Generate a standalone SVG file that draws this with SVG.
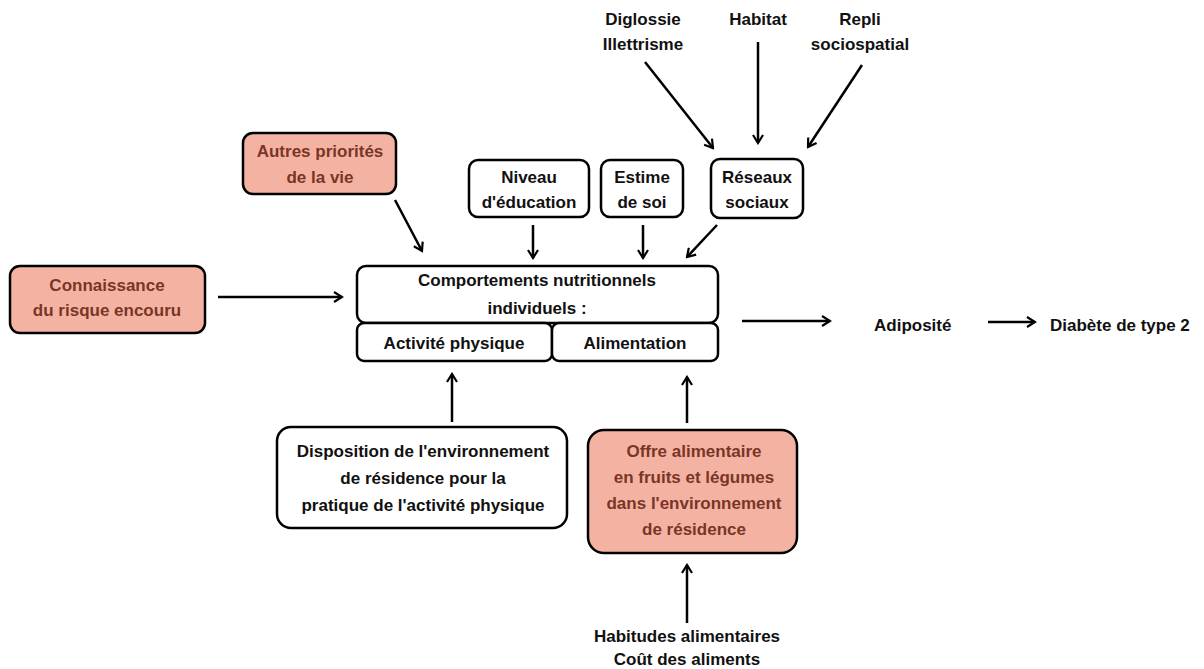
<svg xmlns="http://www.w3.org/2000/svg" width="1204" height="669" viewBox="0 0 1204 669">
  <style>
    .box { fill: #ffffff; stroke: #000000; stroke-width: 2.5; }
    .hot { fill: #f4b3a2; stroke: #000000; stroke-width: 2.5; }
    text { font-family: "Liberation Sans", Arial, sans-serif; font-weight: bold; font-size: 17px; fill: #111111; text-anchor: middle; }
    .hot-t { fill: #7a3526; }
    .free { text-anchor: start; }
    .conn line { stroke: #000000; stroke-width: 2.5; marker-end: url(#arr); }
  </style>
  <defs>
    <marker id="arr" viewBox="0 0 12 12" refX="10" refY="6" markerWidth="12" markerHeight="12" markerUnits="userSpaceOnUse" orient="auto">
      <polyline points="2,1 10,6 2,11" fill="none" stroke="#000000" stroke-width="2.2" stroke-linejoin="miter"/>
    </marker>
  </defs>
  <rect width="1204" height="669" fill="#ffffff"/>

  <!-- upstream social factors -->
  <g id="diglossie">
    <text x="643" y="25">Diglossie</text>
    <text x="643" y="50">Illettrisme</text>
  </g>
  <g id="habitat">
    <text x="758" y="25">Habitat</text>
  </g>
  <g id="repli">
    <text x="860" y="25">Repli</text>
    <text x="860" y="50">sociospatial</text>
  </g>

  <g id="autres">
    <rect class="hot" x="243" y="133" width="153" height="61" rx="10"/>
    <text class="hot-t" x="320" y="157">Autres priorités</text>
    <text class="hot-t" x="320" y="183">de la vie</text>
  </g>
  <g id="connaissance">
    <rect class="hot" x="10" y="266" width="195" height="67" rx="10"/>
    <text class="hot-t" x="107" y="291">Connaissance</text>
    <text class="hot-t" x="107" y="316">du risque encouru</text>
  </g>
  <g id="niveau">
    <rect class="box" x="469" y="160" width="120" height="57" rx="9"/>
    <text x="529" y="183">Niveau</text>
    <text x="529" y="208">d'éducation</text>
  </g>
  <g id="estime">
    <rect class="box" x="601" y="160" width="82" height="57" rx="9"/>
    <text x="642" y="183">Estime</text>
    <text x="642" y="208">de soi</text>
  </g>
  <g id="reseaux">
    <rect class="box" x="711" y="159" width="92" height="59" rx="9"/>
    <text x="757" y="183">Réseaux</text>
    <text x="757" y="208">sociaux</text>
  </g>

  <!-- central behaviour block -->
  <g id="comportements">
    <rect class="box" x="357" y="266" width="361" height="57" rx="9"/>
    <text x="537" y="286">Comportements nutritionnels</text>
    <text x="537" y="314">individuels :</text>
  </g>
  <g id="activite">
    <rect class="box" x="357" y="323" width="195" height="38" rx="7"/>
    <text x="454" y="349">Activité physique</text>
  </g>
  <g id="alimentation">
    <rect class="box" x="552" y="323" width="166" height="38" rx="7"/>
    <text x="635" y="349">Alimentation</text>
  </g>

  <g id="adiposite">
    <text class="free" x="874" y="331">Adiposité</text>
  </g>
  <g id="diabete">
    <text class="free" x="1050" y="331">Diabète de type 2</text>
  </g>

  <!-- residential environment -->
  <g id="disposition">
    <rect class="box" x="277" y="427" width="290" height="101" rx="14"/>
    <text x="423" y="457">Disposition de l'environnement</text>
    <text x="423" y="484">de résidence pour la</text>
    <text x="423" y="511">pratique de l'activité physique</text>
  </g>
  <g id="offre">
    <rect class="hot" x="588" y="430" width="209" height="123" rx="16"/>
    <text class="hot-t" x="694" y="457">Offre alimentaire</text>
    <text class="hot-t" x="694" y="483">en fruits et légumes</text>
    <text class="hot-t" x="694" y="509">dans l'environnement</text>
    <text class="hot-t" x="694" y="535">de résidence</text>
  </g>
  <g id="habitudes">
    <text x="687" y="642">Habitudes alimentaires</text>
    <text x="687" y="665">Coût des aliments</text>
  </g>

  <g id="connectors" class="conn">
    <line x1="645" y1="62" x2="713" y2="148"/>
    <line x1="758" y1="42" x2="758" y2="143"/>
    <line x1="862" y1="65" x2="808" y2="147"/>
    <line x1="395" y1="200" x2="422" y2="251"/>
    <line x1="533" y1="225" x2="533" y2="258"/>
    <line x1="643" y1="225" x2="643" y2="258"/>
    <line x1="717" y1="225" x2="687" y2="257"/>
    <line x1="218" y1="297" x2="342" y2="297"/>
    <line x1="742" y1="321" x2="830" y2="321"/>
    <line x1="988" y1="322" x2="1035" y2="322"/>
    <line x1="452" y1="422" x2="452" y2="374"/>
    <line x1="687" y1="423" x2="687" y2="377"/>
    <line x1="687" y1="623" x2="687" y2="565"/>
  </g>
</svg>
